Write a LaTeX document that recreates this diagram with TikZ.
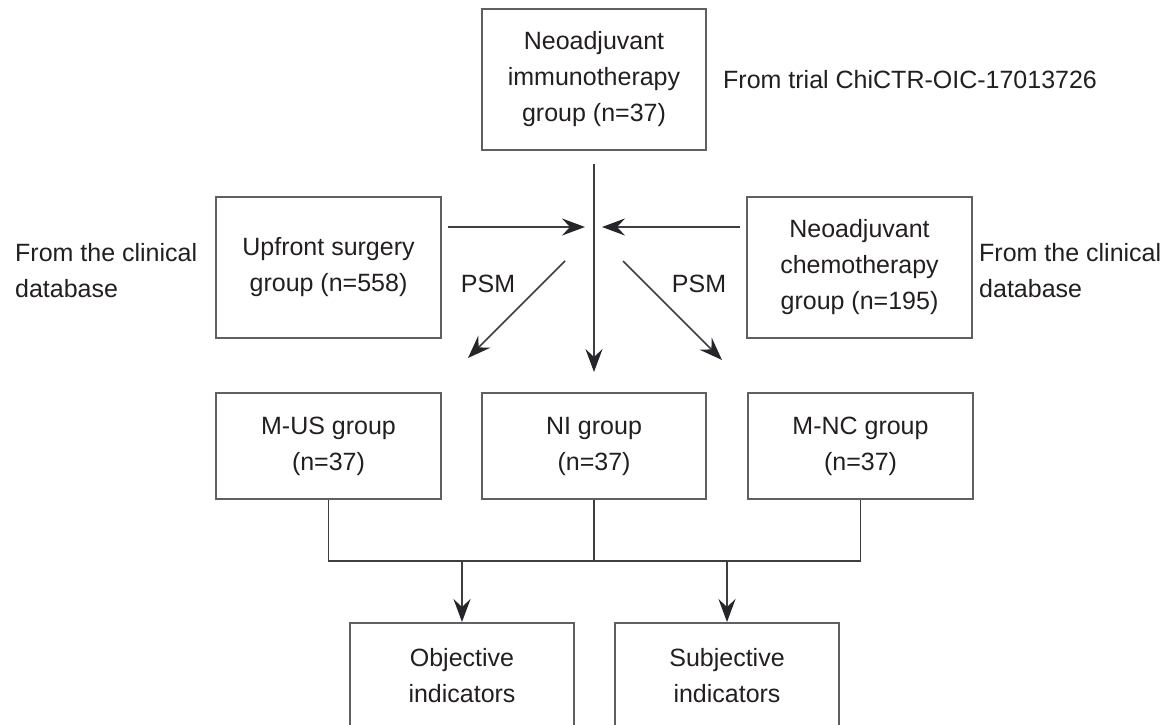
\documentclass[tikz,border=0pt]{standalone}
\usepackage{fontspec}
\setmainfont{Liberation Sans}
\usetikzlibrary{arrows.meta}
\definecolor{txt}{HTML}{231F20}
\definecolor{boxc}{HTML}{5F6063}
\definecolor{linec}{HTML}{3E3E40}
\definecolor{tipc}{HTML}{26262A}
\begin{document}
\begin{tikzpicture}[x=1pt,y=-1pt,
  every node/.style={font=\fontsize{25}{36}\selectfont, text=txt},
  gbox/.style={draw=boxc, line width=2pt, align=center, inner sep=0pt, minimum width=#1},
  gbox/.default=225,
  tall/.style={minimum height=141},
  short/.style={minimum height=106},
  lbl/.style={align=left, anchor=west, inner sep=0pt},
  conn/.style={draw=linec, line width=1.7pt},
  arr/.style={conn, -{Stealth[length=23pt 0,width=17pt 0,inset=8pt 0,color=tipc]}}
]
\useasboundingbox (0,0) rectangle (1167,725);
\clip (0,0) rectangle (1167,725);
\fill[white] (0,0) rectangle (1167,725);

\node[gbox=224, tall] (top) at (594,79.5) {Neoadjuvant\\immunotherapy\\group (n=37)};
\node[gbox, tall] (us) at (328.5,267.5) {Upfront surgery\\group (n=558)};
\node[gbox, tall] (nc) at (859.5,267.5) {Neoadjuvant\\chemotherapy\\group (n=195)};
\node[gbox, short] (mus) at (328.5,446) {M-US group\\(n=37)};
\node[gbox=224, short] (ni) at (594,446) {NI group\\(n=37)};
\node[gbox, short] (mnc) at (860.5,446) {M-NC group\\(n=37)};
\node[gbox=224, short] (obj) at (462,676) {Objective\\indicators};
\node[gbox=224, short] (subj) at (727,676) {Subjective\\indicators};

\node[lbl] (trial) at (723,80) {From trial ChiCTR-OIC-17013726};
\node[lbl] (dbl) at (15,271) {From the clinical\\database};
\node[lbl] (dbr) at (979,271) {From the clinical\\database};
\node[inner sep=0pt] (psml) at (488,284) {PSM};
\node[inner sep=0pt] (psmr) at (699,284) {PSM};

\coordinate (hub) at (594,227);
\coordinate (dls) at (565,261);
\coordinate (dle) at (468,358);
\coordinate (drs) at (623,261);
\coordinate (dre) at (722,360);
\coordinate (bus) at (594,561);

\draw[arr] ([yshift=-13pt]top.south) -- ([yshift=20pt]ni.north);
\draw[arr] ([xshift=6pt,yshift=40.5pt]us.east) -- ([xshift=-9pt]hub);
\draw[arr] ([xshift=-6pt,yshift=40.5pt]nc.west) -- ([xshift=8pt]hub);
\draw[arr] (dls) -- (dle);
\draw[arr] (drs) -- (dre);

\draw[conn] (mus.south) |- (bus) -| (mnc.south);
\draw[conn] (ni.south) -- (bus);
\draw[arr] (obj.north |- bus) -- (obj.north);
\draw[arr] (subj.north |- bus) -- (subj.north);
\end{tikzpicture}
\end{document}
